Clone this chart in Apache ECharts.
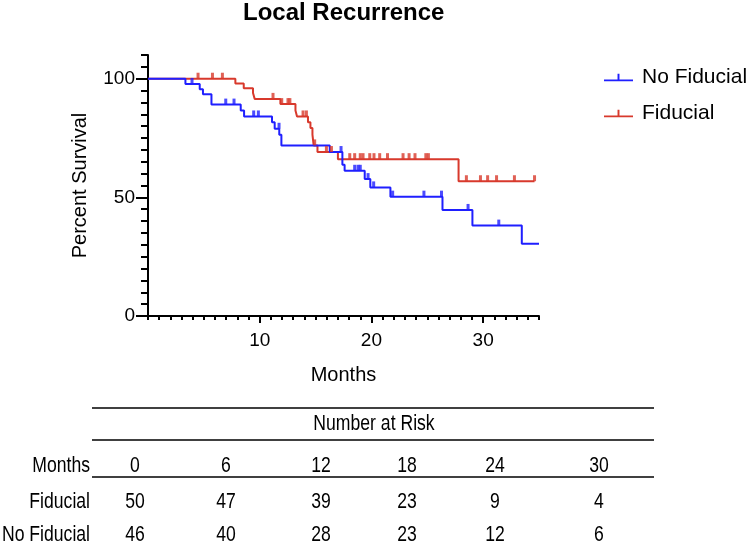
<!DOCTYPE html>
<html>
<head>
<meta charset="utf-8">
<script src="https://cdn.jsdelivr.net/npm/echarts@6/dist/echarts.min.js"></script>
<style>html,body{margin:0;padding:0;background:#fff}#c{width:747px;height:543px}</style>
</head>
<body>
<div id="c"></div>
<script>
// ---- data ----
const chartTitle = 'Local Recurrence';
const seriesNames = ['No Fiducial', 'Fiducial'];
// Kaplan-Meier steps: [month, percent survival after the step]
const noFiducialSteps = [[0,100],[3.35,97.8],[4.63,95.6],[4.92,93.5],[5.68,89.1],[8.3,86.6],[8.6,84.1],[11.1,81.7],[11.34,78.9],[11.75,76.4],[11.94,71.9],[16.27,69.1],[17.4,63.7],[17.6,61.2],[19.4,57.7],[19.9,54.2],[21.7,50.3],[26.36,44.7],[29.04,38.1],[33.46,30.4],[35,30.4]];
const noFiducialCensored = [[3.94,97.8],[6.96,89.1],[7.7,89.1],[9.46,84.1],[9.88,84.1],[11.73,78.9],[17.28,69.1],[18.5,61.2],[18.8,61.2],[19.0,61.2],[19.7,57.7],[20.2,54.2],[21.9,50.3],[24.7,50.3],[26.27,50.3],[28.65,44.7],[31.4,38.1]];
const fiducialSteps = [[0,100],[7.82,98],[8.57,96],[9.4,94],[9.55,91.5],[11.85,89.3],[13.2,86.6],[13.34,84.1],[14.32,81.7],[14.54,79.2],[14.72,76.4],[14.83,71.9],[15.17,69.1],[17.0,66.1],[27.8,56.8],[34.6,56.8]];
const fiducialCensored = [[4.48,100],[5.77,100],[6.66,100],[11.19,91.5],[11.97,89.3],[12.53,89.3],[12.7,89.3],[13.88,84.1],[14.18,84.1],[14.92,71.9],[15.97,69.1],[16.42,69.1],[18.06,66.1],[18.5,66.1],[19.0,66.1],[19.25,66.1],[19.85,66.1],[20.23,66.1],[20.74,66.1],[21.44,66.1],[22.83,66.1],[23.37,66.1],[23.9,66.1],[24.87,66.1],[25.1,66.1],[28.5,56.8],[29.76,56.8],[30.4,56.8],[31.2,56.8],[32.8,56.8],[34.6,56.8]];
const xTickLabels = [10, 20, 30];
const yTickLabels = [0, 50, 100];
const xAxisTitle = 'Months';
const yAxisTitle = 'Percent Survival';
// Number at risk table
const riskTitle = 'Number at Risk';
const riskRowLabels = ['Months', 'Fiducial', 'No Fiducial'];
const riskMonths = [0, 6, 12, 18, 24, 30];
const riskFiducial = [50, 47, 39, 23, 9, 4];
const riskNoFiducial = [46, 40, 28, 23, 12, 6];

// ---- styles / layout ----
const BLUE = '#1f1fff', RED = '#d8392c';
const FONT = '"Liberation Sans", Arial, sans-serif';
const grid = {left: 148, top: 55, width: 391, height: 261};
const tableLeft = 92, tableRight = 654;
const tableLineYs = [408, 440, 477];
const tableRowYs = [466, 502, 535];
const tableColXs = [135, 226, 321, 407, 495, 599];
const tableFont = '22px ' + FONT;
const tableScaleX = 0.8;
const legendIcon = 'path://M0,6 L30,6 L30,8 L0,8 Z M14,0 L16,0 L16,8 L14,8 Z';

const chart = echarts.init(document.getElementById('c'));

const graphic = [];
tableLineYs.forEach(function (y) {
  graphic.push({type: 'line', shape: {x1: tableLeft, y1: y, x2: tableRight, y2: y}, style: {stroke: '#000', lineWidth: 1.6}});
});
function tableText(txt, x, y, align) {
  return {type: 'text', x: x, y: y, scaleX: tableScaleX,
    style: {text: txt, font: tableFont, fill: '#000', align: align, verticalAlign: 'middle'}};
}
graphic.push(tableText(riskTitle, 374, (tableLineYs[0] + tableLineYs[1]) / 2, 'center'));
const rows = [riskMonths, riskFiducial, riskNoFiducial];
rows.forEach(function (vals, r) {
  graphic.push(tableText(riskRowLabels[r], tableLeft - 2, tableRowYs[r], 'right'));
  vals.forEach(function (v, i) {
    graphic.push(tableText(String(v), tableColXs[i], tableRowYs[r], 'center'));
  });
});

const axisCommon = {
  axisLine: {show: true, lineStyle: {color: '#000', width: 2}},
  splitLine: {show: false}
};

chart.setOption({
  animation: false,
  backgroundColor: '#fff',
  title: {text: chartTitle, left: 238, top: 0, padding: [1, 5, 5, 5],
    textStyle: {fontFamily: FONT, fontSize: 24, fontWeight: 'bold', color: '#000'}},
  legend: {
    orient: 'vertical', left: 599, top: 62, itemWidth: 29, itemHeight: 8, itemGap: 15,
    data: seriesNames.map(function (n) { return {name: n, icon: legendIcon}; }),
    textStyle: {fontFamily: FONT, fontSize: 21, color: '#000', padding: [0, 0, 0, 4]}
  },
  grid: grid,
  xAxis: [
    Object.assign({type: 'value', min: 0, max: 35, interval: 1,
      axisTick: {show: true, length: 4, lineStyle: {color: '#000', width: 2}},
      axisLabel: {show: false}}, axisCommon),
    {type: 'value', min: 0, max: 35, interval: 10, position: 'bottom',
      name: xAxisTitle, nameLocation: 'middle', nameGap: 49,
      nameTextStyle: {fontFamily: FONT, fontSize: 20, color: '#000'},
      axisLine: {show: false},
      axisTick: {show: true, length: 7, customValues: xTickLabels, lineStyle: {color: '#000', width: 2}},
      axisLabel: {show: true, margin: 15, customValues: xTickLabels, fontFamily: FONT, fontSize: 19, color: '#000'},
      splitLine: {show: false}}
  ],
  yAxis: [
    Object.assign({type: 'value', min: 0, max: 110, interval: 5,
      axisTick: {show: true, length: 7, lineStyle: {color: '#000', width: 2}},
      axisLabel: {show: false}}, axisCommon),
    {type: 'value', min: 0, max: 110, interval: 50, position: 'left',
      name: yAxisTitle, nameLocation: 'middle', nameGap: 58,
      nameTextStyle: {fontFamily: FONT, fontSize: 20, color: '#000'},
      axisLine: {show: false},
      axisTick: {show: true, length: 12, customValues: yTickLabels, lineStyle: {color: '#000', width: 2}},
      axisLabel: {show: true, margin: 13, customValues: yTickLabels, fontFamily: FONT, fontSize: 19, color: '#000'},
      splitLine: {show: false}}
  ],
  series: [
    {name: seriesNames[0], type: 'line', step: 'end', data: noFiducialSteps, showSymbol: false, symbol: 'none',
      itemStyle: {color: BLUE}, lineStyle: {color: BLUE, width: 2}, z: 3},
    {name: seriesNames[1], type: 'line', step: 'end', data: fiducialSteps, showSymbol: false, symbol: 'none',
      itemStyle: {color: RED}, lineStyle: {color: RED, width: 2}, z: 2},
    {name: 'No Fiducial censored', type: 'scatter', data: noFiducialCensored, symbol: 'rect', symbolSize: [3, 6],
      symbolOffset: [0, -3], itemStyle: {color: BLUE}, z: 4},
    {name: 'Fiducial censored', type: 'scatter', data: fiducialCensored, symbol: 'rect', symbolSize: [3, 6],
      symbolOffset: [0, -3], itemStyle: {color: RED}, z: 4}
  ],
  graphic: graphic
});
</script>
</body>
</html>
